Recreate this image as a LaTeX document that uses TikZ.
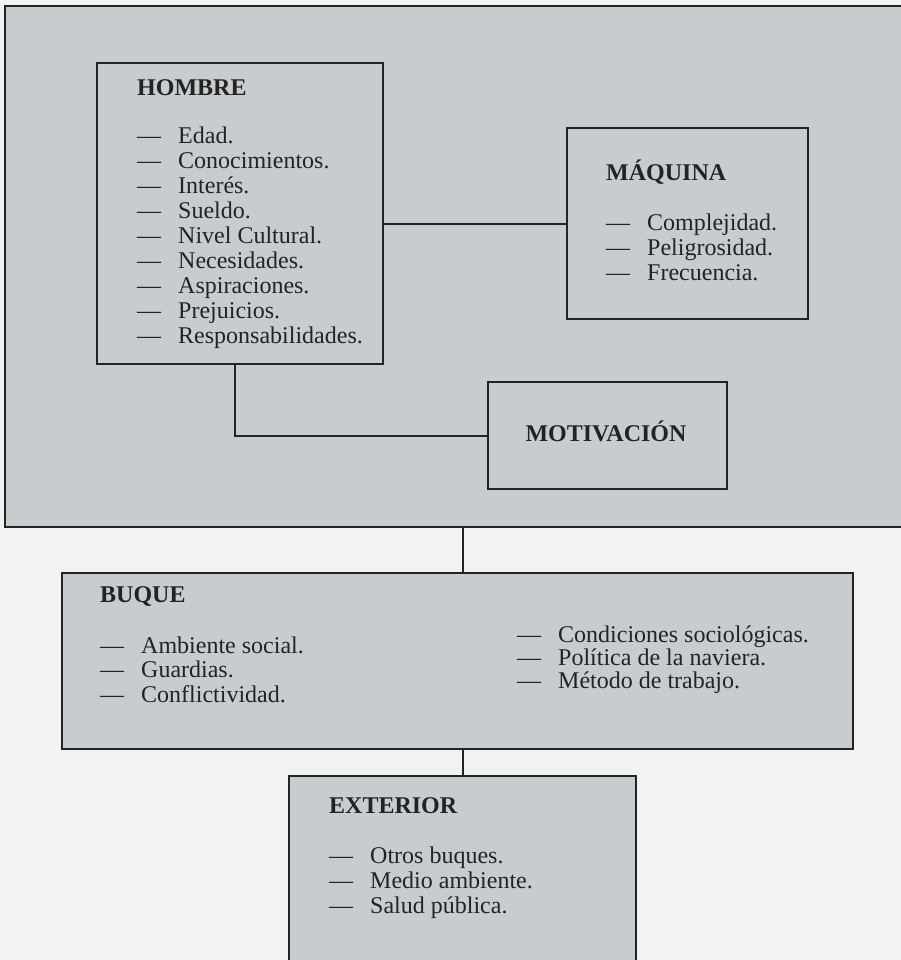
\documentclass[tikz,border=0pt]{standalone}
\usepackage{fontspec}
\setmainfont{Liberation Serif}
\definecolor{panel}{RGB}{200,204,207}
\definecolor{pagebg}{RGB}{241,242,242}
\definecolor{ink}{RGB}{35,35,35}
\newcommand{\itm}[1]{\makebox[41bp][l]{—}#1}
\begin{document}
\begin{tikzpicture}[x=1bp,y=-1bp,
  box/.style={rectangle, draw=ink, line width=1.5bp, fill=panel, inner sep=0pt},
  frame/.style={box, line width=2bp},
  lbl/.style={anchor=base west, inner sep=0pt, text=ink, font=\fontsize{24bp}{25bp}\selectfont},
  ttl/.style={lbl, font=\fontsize{24bp}{25bp}\selectfont\bfseries},
  conn/.style={draw=ink, line width=2bp}]
\useasboundingbox (0,0) rectangle (901,960);
\clip (0,0) rectangle (901,960);
\fill[pagebg] (0,0) rectangle (901,960);

% outer panel
\node[frame, minimum width=905bp, minimum height=521bp] (marco) at (457.5,266.5) {};

% boxes
\node[box, minimum width=286bp, minimum height=301bp] (hombre) at (240,213.5) {};
\node[box, minimum width=241bp, minimum height=191bp] (maquina) at (687.5,223.5) {};
\node[box, minimum width=239bp, minimum height=107bp] (motiv) at (607.5,435.5) {};
\node[box, line width=2.2bp, minimum width=791bp, minimum height=176bp] (buque) at (457.5,661) {};
\node[box, line width=2.2bp, minimum width=347bp, minimum height=224bp] (exterior) at (462.5,888) {};

% connectors
\draw[conn] (maquina.west) -- (maquina.west -| hombre.east);
\draw[conn] ([xshift=-5bp]hombre.south) |- (motiv.west);
\draw[conn] (buque.north -| exterior.north) -- (marco.south -| exterior.north);
\draw[conn] (exterior.north) -- (exterior.north |- buque.south);

% HOMBRE
\node[ttl] (tH) at (137,95) {HOMBRE};
\foreach \t [count=\i] in {Edad., Conocimientos., Interés., Sueldo., Nivel Cultural., Necesidades., Aspiraciones., Prejuicios., Responsabilidades.}
  \node[lbl] (h\i) at (137,{118+25*\i}) {\itm{\t}};

% MAQUINA
\node[ttl] (tM) at (606,180) {MÁQUINA};
\foreach \t [count=\i] in {Complejidad., Peligrosidad., Frecuencia.}
  \node[lbl] (m\i) at (606,{205+25*\i}) {\itm{\t}};

% MOTIVACION
\node[ttl, anchor=base] (tMot) at (606,441) {MOTIVACIÓN};

% BUQUE
\node[ttl] (tB) at (100,602) {BUQUE};
\foreach \t [count=\i] in {Ambiente social., Guardias., Conflictividad.}
  \node[lbl] (b\i) at (100,{628.5+24.5*\i}) {\itm{\t}};
\foreach \t [count=\i] in {Condiciones sociológicas., Política de la naviera., Método de trabajo.}
  \node[lbl] (c\i) at (517,{619+23*\i}) {\itm{\t}};

% EXTERIOR
\node[ttl] (tE) at (329,813) {EXTERIOR};
\foreach \t [count=\i] in {Otros buques., Medio ambiente., Salud pública.}
  \node[lbl] (e\i) at (329,{838+25*\i}) {\itm{\t}};
\end{tikzpicture}
\end{document}
